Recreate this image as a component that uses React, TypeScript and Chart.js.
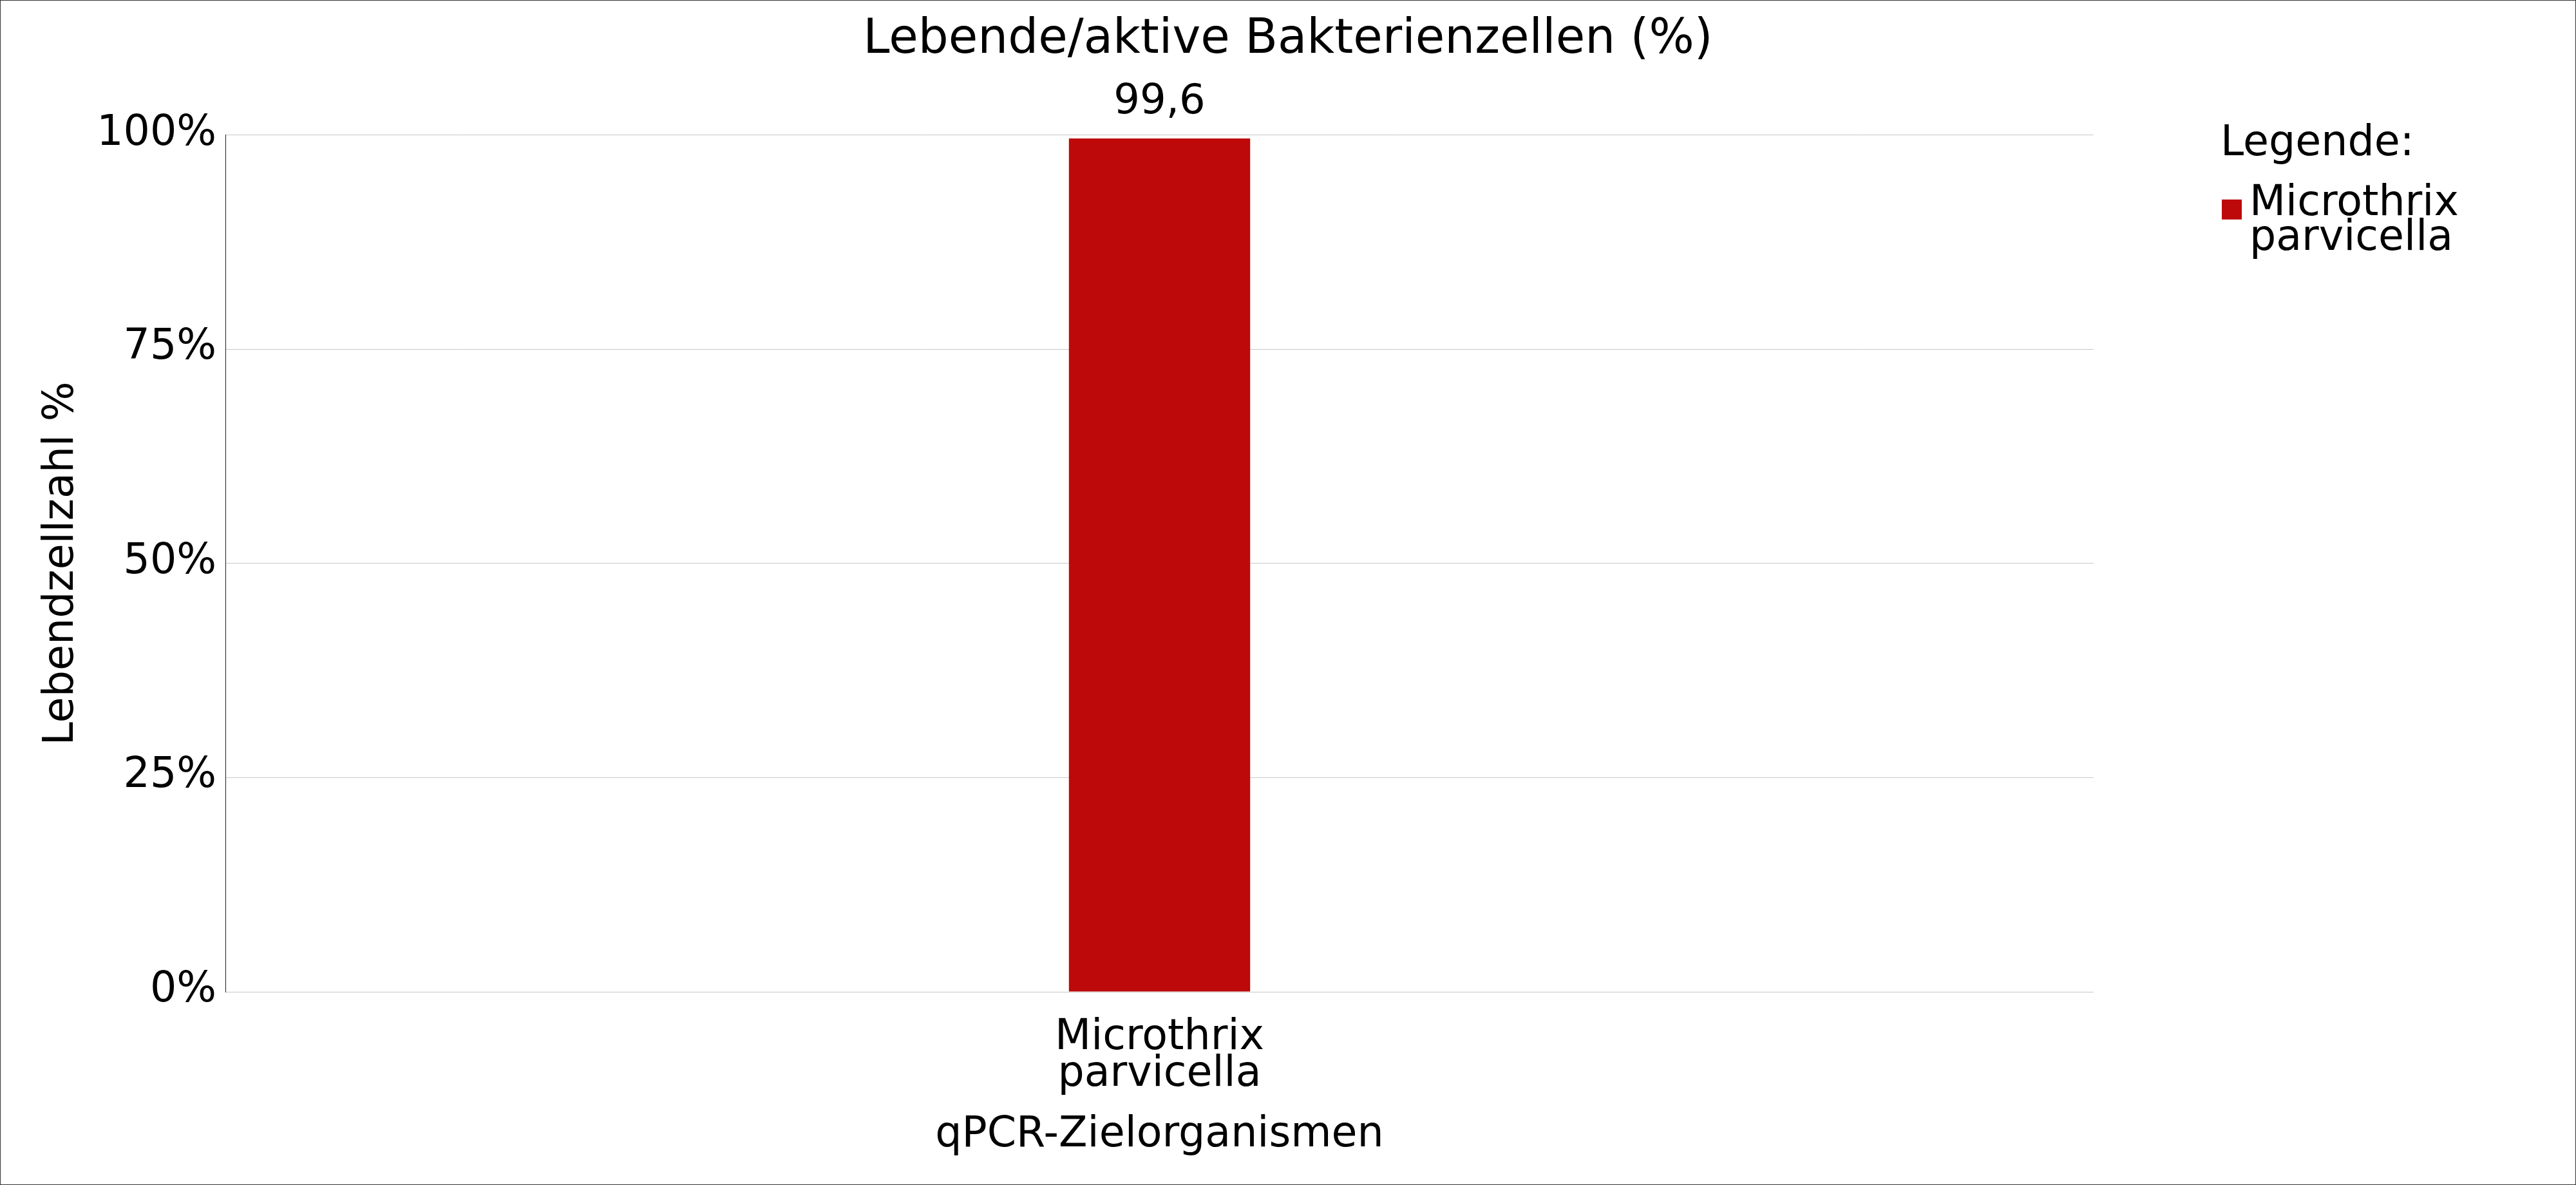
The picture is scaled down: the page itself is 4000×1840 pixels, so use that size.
import React, { useEffect, useRef } from "react";
import { Chart, registerables } from "chart.js";

Chart.register(...registerables);

// ---- data ----
const categories: string[][] = [["Microthrix", "parvicella"]];
const seriesName = "Microthrix parvicella";
const legendLines: string[] = ["Microthrix", "parvicella"];
const values: number[] = [99.6];
const yTickValues: number[] = [0, 25, 50, 75, 100];
const titleText = "Lebende/aktive Bakterienzellen (%)";
const yAxisTitle = "Lebendzellzahl %";
const xAxisTitle = "qPCR-Zielorganismen";
const legendTitle = "Legende:";
const barColor = "#BD0909";

const FONT = "'DejaVu Sans', 'Liberation Sans', sans-serif";

const valueLabelPlugin = {
  id: "valueLabels",
  afterDatasetsDraw(chart: any) {
    const ctx = chart.ctx;
    chart.data.datasets.forEach((ds: any, di: number) => {
      const meta = chart.getDatasetMeta(di);
      meta.data.forEach((el: any, i: number) => {
        const v = ds.data[i] as number;
        ctx.save();
        ctx.font = `64px ${FONT}`;
        ctx.fillStyle = "#000";
        ctx.textAlign = "center";
        ctx.textBaseline = "alphabetic";
        ctx.fillText(v.toLocaleString("de-DE"), el.x, el.y - 39);
        ctx.restore();
      });
    });
  },
};

const sideLegendPlugin = {
  id: "sideLegend",
  afterDraw(chart: any) {
    const { ctx, chartArea } = chart;
    const left = chartArea.right + 199;
    const top = chartArea.top;
    ctx.save();
    ctx.font = `65px ${FONT}`;
    ctx.fillStyle = "#000";
    ctx.textAlign = "left";
    ctx.textBaseline = "alphabetic";
    ctx.fillText(legendTitle, left - 2, top + 31);
    const ds = chart.data.datasets[0];
    ctx.fillStyle = ds.backgroundColor as string;
    ctx.fillRect(left, top + 100, 31, 31);
    ctx.fillStyle = "#000";
    legendLines.forEach((line, i) => {
      ctx.fillText(line, left + 43, top + 124 + i * 54);
    });
    ctx.restore();
  },
};

export default function App() {
  const canvasRef = useRef<HTMLCanvasElement | null>(null);

  useEffect(() => {
    if (!canvasRef.current) return;
    const chart = new Chart(canvasRef.current, {
      type: "bar",
      data: {
        labels: categories as any,
        datasets: [
          {
            label: seriesName,
            data: values,
            backgroundColor: barColor,
            borderWidth: 0,
            categoryPercentage: 1,
            barPercentage: 0.097,
            yAxisID: "y",
          },
        ],
      },
      plugins: [valueLabelPlugin, sideLegendPlugin],
      options: {
        animation: false,
        responsive: true,
        maintainAspectRatio: false,
        layout: { padding: 0 },
        plugins: {
          legend: { display: false },
          tooltip: { enabled: false },
          title: {
            display: true,
            text: titleText,
            color: "#000",
            font: { family: FONT, size: 74, weight: "normal", lineHeight: 1.2 },
            padding: { top: 17, bottom: 103 },
          },
        },
        scales: {
          x: {
            type: "category",
            grid: { display: false, drawTicks: false },
            border: { display: false },
            ticks: {
              color: "#000",
              padding: 44,
              maxRotation: 0,
              autoSkip: false,
              font: { family: FONT, size: 65, lineHeight: 0.877 },
            },
            title: {
              display: true,
              text: xAxisTitle,
              color: "#000",
              font: { family: FONT, size: 65, lineHeight: 1.2 },
              padding: { top: 0, bottom: 37 },
            },
            afterFit: (scale: any) => {
              scale.height = 299;
            },
          },
          y: {
            type: "linear",
            position: "left",
            min: 0,
            max: 100,
            grid: { color: "#c8c8c8", lineWidth: 1, drawTicks: false },
            border: { display: true, color: "#222", width: 1 },
            ticks: {
              color: "#000",
              padding: 14,
              labelOffset: -2,
              font: { family: FONT, size: 65 },
              callback: (v: any) => `${v}%`,
            },
            afterBuildTicks: (scale: any) => {
              scale.ticks = yTickValues.map((v) => ({ value: v }));
            },
            title: {
              display: true,
              text: yAxisTitle,
              color: "#000",
              font: { family: FONT, size: 65, lineHeight: 1.2 },
              padding: { top: 56, bottom: 0 },
            },
            afterFit: (scale: any) => {
              scale.width = 349;
            },
          },
          legendSpace: {
            type: "linear",
            position: "right",
            display: true,
            grid: { display: false, drawTicks: false },
            border: { display: false },
            ticks: { display: false },
            title: { display: false },
            afterFit: (scale: any) => {
              scale.width = 748;
            },
          },
        },
      },
    } as any);
    return () => chart.destroy();
  }, []);

  return (
    <div
      style={{
        position: "fixed",
        left: 0,
        top: 0,
        width: "4000px",
        height: "1840px",
        border: "1px solid #333",
        boxSizing: "border-box",
        background: "#fff",
      }}
    >
      <div style={{ position: "relative", width: "100%", height: "100%" }}>
        <canvas ref={canvasRef} />
      </div>
    </div>
  );
}
